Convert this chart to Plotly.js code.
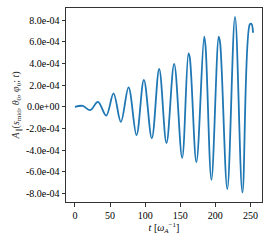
<!DOCTYPE html>
<html>
<head>
<meta charset="utf-8">
<script src="https://cdn.plot.ly/plotly-3.0.1.min.js"></script>
<style>html,body{margin:0;padding:0;background:#fff;}#chart{width:270px;height:243px;}</style>
</head>
<body>
<div id="chart"></div>
<script>
const timeValues = [0, 11, 21.8, 32.7, 44.6, 55, 65.4, 76.4, 87.7, 98.2, 109.5, 120, 130.4, 141.3, 152.7, 161.7, 163.5, 173, 184, 186, 194.4, 204.8, 206.8, 217, 228, 238.5, 249, 251.3, 253.7];
const aParallel = [0, 0.1e-4, -0.3e-4, 0.47e-4, -0.8e-4, 1.26e-4, -1.38e-4, 1.8e-4, -2.6e-4, 2.5e-4, -2.9e-4, 3.5e-4, -3.33e-4, 3.97e-4, -4.7e-4, 4.95e-4, 4.6e-4, -5.08e-4, 6.48e-4, 5.6e-4, -6.72e-4, 6.48e-4, 5.9e-4, -7.57e-4, 8.32e-4, -7.9e-4, 7.62e-4, 7.67e-4, 6.85e-4];
const yTickVals = [-8e-4, -6e-4, -4e-4, -2e-4, 0, 2e-4, 4e-4, 6e-4, 8e-4];
const yTickText = ["-8.0e-04", "-6.0e-04", "-4.0e-04", "-2.0e-04", "0.0e+00", "2.0e-04", "4.0e-04", "6.0e-04", "8.0e-04"];
const xTickVals = [0, 50, 100, 150, 200, 250];

const trace = {
  x: timeValues,
  y: aParallel,
  type: 'scatter',
  mode: 'lines',
  line: {color: '#1f77b4', width: 1.8, shape: 'spline', smoothing: 1},
  hoverinfo: 'skip'
};
const font = {family: 'Liberation Serif, Times New Roman, serif', size: 10, color: '#000'};
const layout = {
  width: 270, height: 243,
  margin: {l: 66, r: 8, t: 8, b: 41, pad: 0},
  paper_bgcolor: '#fff', plot_bgcolor: '#fff',
  showlegend: false,
  font: font,
  xaxis: {
    range: [-12.7, 266.4],
    tickvals: xTickVals,
    ticks: 'outside', ticklen: 3.5, tickwidth: 0.8, tickcolor: '#000',
    showline: true, linecolor: '#333', linewidth: 1, mirror: true,
    showgrid: false, zeroline: false,
    tickfont: font,
    title: {text: '<i>t</i> [<i>ω</i><sub><i>A</i></sub><sup>−1</sup>]', font: font, standoff: 4}
  },
  yaxis: {
    range: [-8.77e-4, 9.13e-4],
    tickvals: yTickVals, ticktext: yTickText,
    ticks: 'outside', ticklen: 3.5, tickwidth: 0.8, tickcolor: '#000',
    showline: true, linecolor: '#333', linewidth: 1, mirror: true,
    showgrid: false, zeroline: false,
    tickfont: font,
    title: {text: '<i>A</i><sub>∥</sub>(<i>s</i><sub>mid</sub>, <i>θ</i><sub>0</sub>, <i>φ</i><sub>0</sub>; <i>t</i>)', font: {family: font.family, size: 10, color: '#333'}, standoff: 4}
  }
};
Plotly.newPlot('chart', [trace], layout, {staticPlot: true, displayModeBar: false});
</script>
</body>
</html>
